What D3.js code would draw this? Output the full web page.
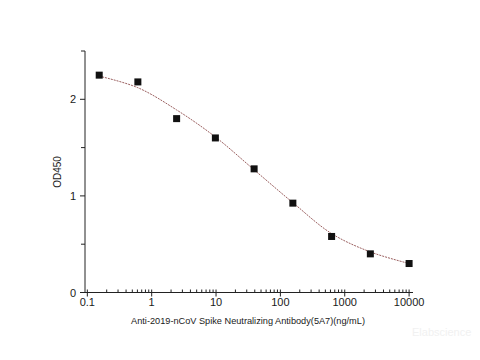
<!DOCTYPE html>
<html>
<head>
<meta charset="utf-8">
<script src="https://cdn.jsdelivr.net/npm/d3@7"></script>
<style>
  body { margin: 0; background: #fff; }
  text { font-family: "Liberation Sans", Arial, sans-serif; }
</style>
</head>
<body>
<svg id="chart" width="480" height="360"></svg>
<script>
// Measured points (concentration ng/mL, OD450)
const conc = [0.153, 0.61, 2.44, 9.77, 39.06, 156.25, 625, 2500, 10000];
const od = [2.25, 2.18, 1.80, 1.60, 1.28, 0.925, 0.58, 0.40, 0.30];

// Fitted curve
const fitConc = [0.153, 0.61, 2.44, 9.77, 39.06, 156.25, 625, 2500, 10000];
const fitOd = [2.24, 2.12, 1.89, 1.61, 1.27, 0.93, 0.61, 0.42, 0.30];

const xTicks = [0.1, 1, 10, 100, 1000, 10000];
const yTicks = [0, 1, 2];

const svg = d3.select("#chart");

// Scales
const x = d3.scaleLog().domain([0.092, 11500]).range([85, 413]);
const y = d3.scaleLinear().domain([0, 2.5]).range([292.5, 51]);

const axisColor = "#222";

// y axis
svg.append("line")
  .attr("x1", 85).attr("x2", 85)
  .attr("y1", y(2.5)).attr("y2", y(0))
  .attr("stroke", axisColor).attr("stroke-width", 1);

d3.range(0, 2.51, 0.5).forEach(v => {
  const major = Math.abs(v - Math.round(v)) < 1e-6;
  svg.append("line")
    .attr("x1", major ? 80 : 81).attr("x2", 85)
    .attr("y1", y(v)).attr("y2", y(v))
    .attr("stroke", axisColor);
});

svg.selectAll(".ylab")
  .data(yTicks)
  .enter()
  .append("text")
  .attr("x", 76)
  .attr("y", d => y(d) + 4)
  .attr("text-anchor", "end")
  .attr("font-size", 11)
  .attr("fill", "#1a1a1a")
  .text(d => d);

// x axis
svg.append("line")
  .attr("x1", 85).attr("x2", 413)
  .attr("y1", y(0)).attr("y2", y(0))
  .attr("stroke", axisColor).attr("stroke-width", 1);

// minor ticks
xTicks.slice(0, -1).forEach(t => {
  for (let k = 2; k <= 9; k++) {
    svg.append("line")
      .attr("x1", x(t * k)).attr("x2", x(t * k))
      .attr("y1", y(0) - 3).attr("y2", y(0))
      .attr("stroke", axisColor);
  }
});

svg.selectAll(".xtick")
  .data(xTicks)
  .enter()
  .append("line")
  .attr("x1", d => x(d)).attr("x2", d => x(d))
  .attr("y1", y(0) - 3).attr("y2", y(0) + 4)
  .attr("stroke", axisColor);

svg.selectAll(".xlab")
  .data(xTicks)
  .enter()
  .append("text")
  .attr("x", d => x(d))
  .attr("y", 306)
  .attr("text-anchor", "middle")
  .attr("font-size", 11)
  .attr("fill", "#1a1a1a")
  .text(d => d3.format("")(d));

// axis titles
svg.append("text")
  .attr("x", 248).attr("y", 324)
  .attr("text-anchor", "middle")
  .attr("font-size", 9.2)
  .attr("fill", "#1a1a1a")
  .text("Anti-2019-nCoV Spike Neutralizing Antibody(5A7)(ng/mL)");

svg.append("text")
  .attr("transform", "translate(61,172) rotate(-90)")
  .attr("text-anchor", "middle")
  .attr("font-size", 10)
  .attr("fill", "#1a1a1a")
  .text("OD450");

// fitted curve
const line = d3.line()
  .x((d, i) => x(fitConc[i]))
  .y(d => y(d))
  .curve(d3.curveCatmullRom);

svg.append("path")
  .attr("d", line(fitOd))
  .attr("fill", "none")
  .attr("stroke", "#9a5f5f")
  .attr("stroke-width", 1)
  .attr("stroke-dasharray", "2,1");

// points
svg.selectAll(".pt")
  .data(od)
  .enter()
  .append("rect")
  .attr("x", (d, i) => x(conc[i]) - 3.5)
  .attr("y", d => y(d) - 3.5)
  .attr("width", 7)
  .attr("height", 7)
  .attr("fill", "#111");

// faint watermark
svg.append("text")
  .attr("x", 412).attr("y", 336)
  .attr("font-size", 11)
  .attr("fill", "#f1f1f1")
  .text("Elabscience");
</script>
</body>
</html>
